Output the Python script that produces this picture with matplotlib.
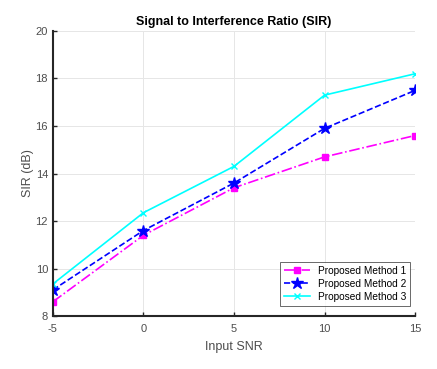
import matplotlib
matplotlib.use("Agg")
import matplotlib.pyplot as plt

plt.rcParams['font.family'] = ['Liberation Sans', 'DejaVu Sans']
plt.rcParams['axes.unicode_minus'] = False

snr = [-5, 0, 5, 10, 15]
m1 = [8.6, 11.4, 13.4, 14.7, 15.6]
m2 = [9.1, 11.6, 13.6, 15.9, 17.5]
m3 = [9.35, 12.35, 14.3, 17.3, 18.2]
labels = ['Proposed Method 1', 'Proposed Method 2', 'Proposed Method 3']
xticks = [-5, 0, 5, 10, 15]
yticks = [8, 10, 12, 14, 16, 18, 20]

fig = plt.figure(figsize=(4.37, 3.69), dpi=100)
ax = fig.add_axes([0.121, 0.1436, 0.829, 0.7724])

ax.plot(snr, m1, color='#ff00ff', linestyle='-.', marker='s', markersize=5, linewidth=1.2, label=labels[0])
ax.plot(snr, m2, color='#0000ff', linestyle='--', marker='*', markersize=9, linewidth=1.2, label=labels[1])
ax.plot(snr, m3, color='#00ffff', linestyle='-', marker='x', markersize=4, linewidth=1.2, label=labels[2])

ax.set_xlim(-5, 15)
ax.set_ylim(8, 20)
ax.set_xticks(xticks)
ax.set_yticks(yticks)
ax.grid(True, color='#e6e6e6', linewidth=0.7)
ax.set_axisbelow(True)
for s in ['top', 'right']:
    ax.spines[s].set_visible(False)
for s in ['left', 'bottom']:
    ax.spines[s].set_linewidth(1.5)
    ax.spines[s].set_color('#262626')
ax.tick_params(direction='in', length=3, labelsize=8, colors='#262626', labelcolor='#4d4d4d', width=1)
ax.tick_params(axis='x', pad=6)
ax.set_xlabel('Input SNR', fontsize=9, color='#4d4d4d', labelpad=5)
ax.set_ylabel('SIR (dB)', fontsize=9, color='#4d4d4d', labelpad=1)
ax.set_title('Signal to Interference Ratio (SIR)', fontsize=9, fontweight='bold', color='#000000', pad=4)
leg = ax.legend(loc='lower right', fontsize=7.3, frameon=True, fancybox=False,
                edgecolor='#262626', borderpad=0.4, handlelength=2.5, labelspacing=0.3,
                bbox_to_anchor=(1.0, 0.018))
leg.get_frame().set_linewidth(0.6)

fig.savefig('out.png', dpi=100)
